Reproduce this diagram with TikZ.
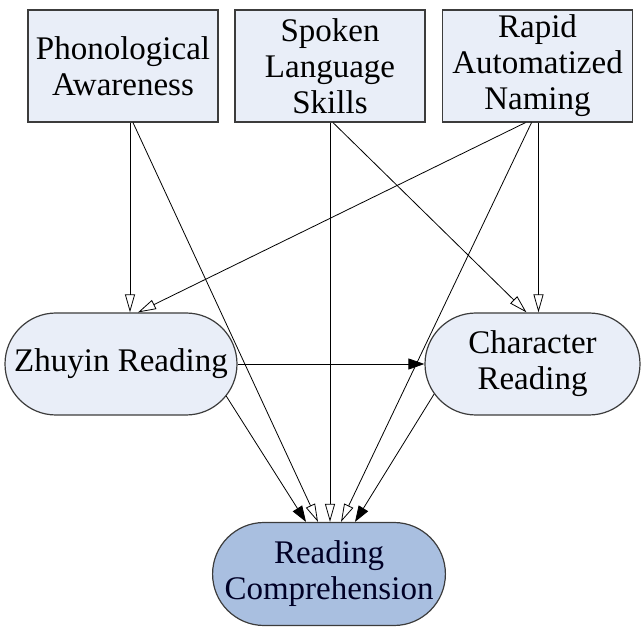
\documentclass[tikz,border=0pt]{standalone}
\usepackage{fontspec}
\setmainfont{Liberation Serif}
\usetikzlibrary{arrows.meta,shapes.misc,calc}
\definecolor{boxfill}{HTML}{E9EEF8}
\definecolor{goalfill}{HTML}{A9BFE0}
\definecolor{edgegray}{HTML}{3C3C3C}
\tikzset{
  label font/.style={font=\fontsize{33}{36}\selectfont},
  factor/.style={draw=edgegray, fill=boxfill, line width=1.2pt,
    minimum width=190pt, minimum height=112pt, align=center, inner sep=0pt, label font},
  skill/.style={rounded rectangle, draw=edgegray, fill=boxfill, line width=1.2pt,
    minimum height=102pt, align=center, inner sep=0pt, label font},
  goal/.style={skill, fill=goalfill, text=black!85!blue},
  openarr/.style={-{Triangle[open,length=18pt,width=10pt]}, line width=0.8pt},
  fillarr/.style={-{Triangle[length=16pt,width=11pt]}, line width=0.8pt},
}
\begin{document}
\begin{tikzpicture}[x=1pt, y=-1pt]
  \useasboundingbox (0,0) rectangle (643,628);
  % predictors
  \node[factor] (pa)  at (123,66)   {Phonological\\Awareness};
  \node[factor] (sl)  at (330,66)   {Spoken\\Language\\Skills};
  \node[factor] (ran) at (537.5,66) {Rapid\\Automatized\\Naming};
  % intermediate skills
  \node[skill, minimum width=232pt] (zr) at (121,364)   {Zhuyin Reading};
  \node[skill, minimum width=215pt] (cr) at (532.5,364) {Character\\Reading};
  % outcome
  \node[goal, minimum width=222pt, minimum height=103pt] (rc) at (329,574) {Reading\\Comprehension};

  % paths to the intermediate skills
  \draw[openarr] ($(pa.south)+(7,0)$)    -- ($(zr.north)+(9,0)$);
  \draw[openarr] ($(ran.south)+(-12,0)$) -- ($(zr.north)+(17,0)$);
  \draw[openarr] ($(sl.south)+(3,0)$)    -- ($(cr.north)+(-6,0)$);
  \draw[openarr] ($(ran.south)+(1,0)$)   -- ($(cr.north)+(6,0)$);
  \draw[fillarr] (zr.east) -- (cr.west);

  % paths to reading comprehension
  \draw[openarr] ($(pa.south)+(10,0)$)   -- ($(rc.north)+(-11,0)$);
  \draw[openarr] (sl.south)              -- ($(rc.north)+(1,0)$);
  \draw[openarr] ($(ran.south)+(-6,0)$)  -- ($(rc.north)+(12,0)$);
  \draw[fillarr] (zr.-17)                -- ($(rc.north)+(-23,0)$);
  \draw[fillarr] (cr.197)                -- ($(rc.north)+(26,0)$);
\end{tikzpicture}
\end{document}
